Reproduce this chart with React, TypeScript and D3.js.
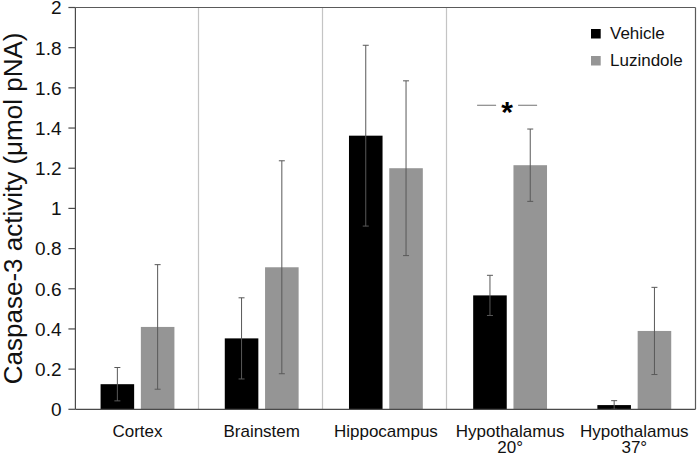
import React from "react";
import * as d3 from "d3";

const categories = [["Cortex"], ["Brainstem"], ["Hippocampus"], ["Hypothalamus", "20°"], ["Hypothalamus", "37°"]];
const seriesNames = ["Vehicle", "Luzindole"];
const vehicle = [0.125, 0.353, 1.362, 0.567, 0.021];
const vehicleErr = [0.083, 0.202, 0.45, 0.1, 0.022];
const luzindole = [0.41, 0.707, 1.2, 1.215, 0.39];
const luzindoleErr = [0.31, 0.53, 0.435, 0.18, 0.217];
const yTicks = [0, 0.2, 0.4, 0.6, 0.8, 1, 1.2, 1.4, 1.6, 1.8, 2];
const significant = [3];

const W = 697, H = 455;
const left = 75.4, right = 696.4, top = 7.5, bottom = 409.3;
const colors = ["#000000", "#959595"];
const font = "'Liberation Sans', Arial, sans-serif";

export default function App() {
  const x = d3.scaleBand<number>().domain(d3.range(categories.length)).range([left, right]);
  const y = d3.scaleLinear().domain([0, 2]).range([bottom, top]);
  const bw = x.bandwidth() / 3.7;
  const series = [
    { v: vehicle, e: vehicleErr },
    { v: luzindole, e: luzindoleErr },
  ];
  const barX = (i: number, s: number) => (x(i) as number) + 0.75 * bw + s * 1.2 * bw;
  const rightEdge = 695.5;
  return (
    <svg width={W} height={H} style={{ position: "absolute", left: 0, top: 0 }} fontFamily={font}>
      <rect width={W} height={H} fill="#fff" />
      {/* separators */}
      {[1, 2, 3].map((i) => (
        <line key={i} x1={Math.round(x(i) as number) - 1.5} x2={Math.round(x(i) as number) - 1.5} y1={top} y2={bottom} stroke="#c4c4c4" strokeWidth={1.2} />
      ))}
      {/* border */}
      <line x1={left} x2={rightEdge} y1={top} y2={top} stroke="#5a5a5a" strokeWidth={1.2} />
      <line x1={rightEdge} x2={rightEdge} y1={top} y2={bottom} stroke="#5a5a5a" strokeWidth={1.2} />
      {/* bars */}
      {series.map((s, si) =>
        s.v.map((v, i) => (
          <rect key={`${si}-${i}`} x={barX(i, si)} y={y(v)} width={bw} height={bottom - y(v)} fill={colors[si]} />
        ))
      )}
      {/* error bars */}
      {series.map((s, si) =>
        s.v.map((v, i) => {
          const cx = barX(i, si) + bw / 2;
          const y1 = y(v + s.e[i]);
          const y2 = y(Math.max(0, v - s.e[i]));
          return (
            <g key={`e${si}-${i}`} stroke="#595959" strokeWidth={1}>
              <line x1={cx} x2={cx} y1={y1} y2={y2} />
              <line x1={cx - 3} x2={cx + 3} y1={y1} y2={y1} />
              <line x1={cx - 3} x2={cx + 3} y1={y2} y2={y2} />
            </g>
          );
        })
      )}
      {/* axes */}
      <line x1={left} x2={left} y1={top} y2={bottom} stroke="#4a4a4a" strokeWidth={1.2} />
      <line x1={left} x2={rightEdge} y1={bottom} y2={bottom} stroke="#4a4a4a" strokeWidth={1.2} />
      {yTicks.map((t) => (
        <g key={t}>
          <line x1={left - 7} x2={left} y1={y(t)} y2={y(t)} stroke="#4a4a4a" strokeWidth={1.2} />
          <text x={61.5} y={y(t)} dy="0.36em" textAnchor="end" fontSize={19} fill="#111">
            {d3.format("~g")(t)}
          </text>
        </g>
      ))}
      <text transform={`translate(22,${(top + bottom) / 2}) rotate(-90)`} textAnchor="middle" fontSize={26} fill="#111">
        Caspase-3 activity (μmol pNA)
      </text>
      {categories.map((c, i) => (
        <text key={i} x={(x(i) as number) + x.bandwidth() / 2} y={436.7} textAnchor="middle" fontSize={17} fill="#111">
          {c.map((line, li) => (
            <tspan key={li} x={(x(i) as number) + x.bandwidth() / 2} dy={li === 0 ? 0 : 16.6}>
              {line}
            </tspan>
          ))}
        </text>
      ))}
      {/* significance */}
      {significant.map((i) => {
        const cx = (x(i) as number) + x.bandwidth() / 2 - 3;
        const yy = 105.3;
        return (
          <g key={`s${i}`}>
            <line x1={cx - 30} x2={cx - 11} y1={yy} y2={yy} stroke="#8a8a8a" strokeWidth={1.2} />
            <line x1={cx + 11} x2={cx + 30} y1={yy} y2={yy} stroke="#8a8a8a" strokeWidth={1.2} />
            <text x={cx} y={yy + 17} textAnchor="middle" fontSize={30} fontWeight="bold" fill="#000">*</text>
          </g>
        );
      })}
      {/* legend */}
      {seriesNames.map((n, i) => (
        <g key={n} transform={`translate(591,${29 + i * 27})`}>
          <rect width={9.7} height={9.5} fill={colors[i]} />
          <text x={19} y={10.3} fontSize={17} fill="#111">{n}</text>
        </g>
      ))}
    </svg>
  );
}
